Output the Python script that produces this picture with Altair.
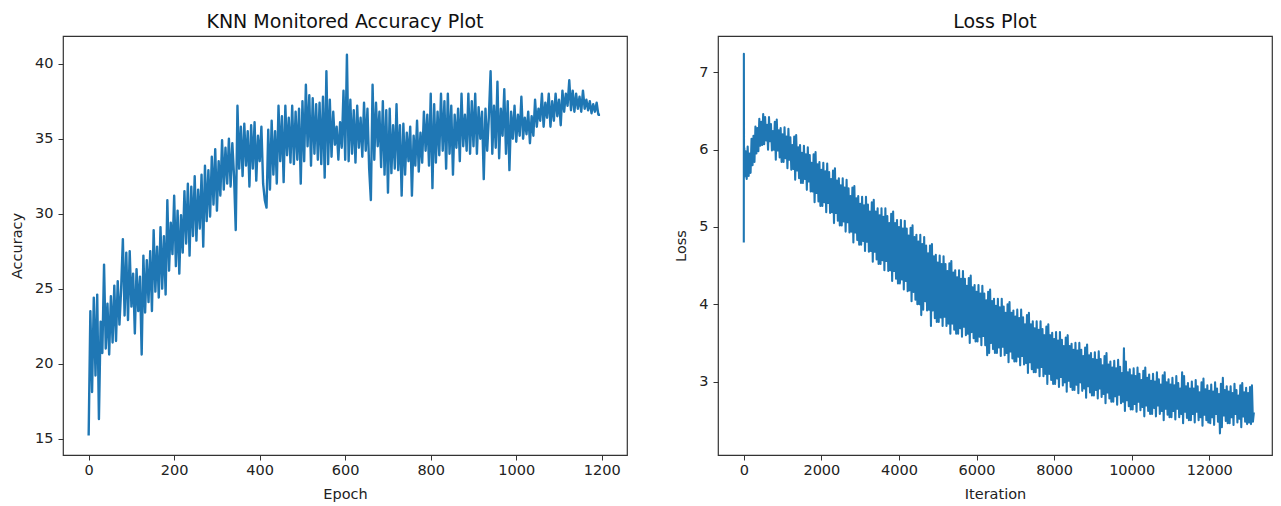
import altair as alt
import pandas as pd

# ---------------- data ----------------
acc_step = 4  # one value every 4 epochs
accuracy = [
    15.2, 23.5, 18.1, 24.4, 19.2, 24.6, 16.3, 22.8, 20.7, 26.6,
    21.0, 24.0, 20.6, 24.5, 21.4, 25.2, 21.5, 25.5, 22.6, 25.0,
    28.3, 23.2, 27.4, 22.9, 27.5, 23.8, 26.0, 22.0, 26.3, 23.5,
    25.8, 20.6, 27.2, 23.4, 26.9, 24.1, 27.5, 23.5, 28.9, 24.8,
    27.8, 24.4, 29.1, 25.0, 28.5, 24.6, 30.9, 26.2, 29.4, 27.3,
    31.2, 26.5, 30.2, 26.0, 29.9, 27.4, 31.5, 28.0, 32.0, 27.2,
    31.8, 28.5, 32.5, 28.2, 31.6, 29.0, 32.6, 27.8, 33.2, 29.5,
    32.9, 29.8, 33.8, 30.6, 34.3, 30.2, 33.5, 31.2, 34.9, 31.6,
    34.4, 32.0, 35.0, 31.8, 34.7, 32.5, 28.9, 37.2, 33.0, 35.8,
    32.5, 36.0, 33.2, 35.5, 31.8, 35.9, 33.0, 36.1, 32.2, 35.2,
    33.5, 35.8, 32.0, 30.9, 30.4, 35.6, 31.6, 36.2, 32.6, 35.5,
    32.0, 37.2, 33.5, 36.5, 32.1, 37.2, 33.9, 36.4, 33.4, 37.2,
    33.3, 36.8, 33.6, 37.0, 32.0, 37.5, 33.5, 38.6, 34.5, 37.9,
    33.2, 37.7, 34.0, 37.3, 33.6, 37.4, 33.3, 37.8, 32.4, 39.5,
    33.3, 37.6, 33.8, 36.8, 34.6, 35.8, 33.6, 36.1, 34.4, 38.2,
    33.6, 40.6, 33.5, 37.6, 34.0, 36.9, 33.4, 37.2, 34.4, 36.4,
    33.8, 37.4, 34.2, 37.0, 33.0, 30.9, 38.6, 33.6, 37.4, 34.5,
    36.8, 33.1, 37.5, 32.6, 36.9, 31.4, 37.0, 32.7, 35.9, 33.0,
    37.3, 32.9, 35.9, 31.2, 36.0, 32.6, 35.4, 33.5, 35.8, 31.2,
    35.2, 33.2, 36.2, 32.8, 35.4, 33.4, 36.8, 34.2, 36.6, 33.2,
    38.0, 31.7, 37.3, 33.4, 36.8, 33.9, 38.0, 34.2, 37.5, 33.0,
    38.0, 34.0, 37.2, 32.6, 36.6, 34.4, 37.0, 33.5, 38.0, 34.5,
    36.6, 34.2, 38.0, 34.0, 37.5, 34.5, 38.0, 34.0, 37.1, 35.0,
    36.8, 32.3, 37.0, 34.2, 36.5, 39.5, 34.0, 37.2, 34.4, 38.8,
    33.7, 37.0, 35.2, 38.3, 34.0, 37.5, 32.9, 36.8, 35.0, 37.2,
    34.8, 36.6, 35.2, 37.8, 35.0, 36.4, 35.3, 36.8, 34.7, 36.5,
    35.2, 37.6, 35.8, 37.0, 36.2, 38.0, 35.8, 37.4, 36.4, 38.0,
    35.8, 37.5, 36.2, 38.0, 36.5, 37.6, 35.9, 38.2, 36.8, 38.0,
    37.2, 38.9, 36.9, 38.2, 36.8, 38.0, 37.0, 37.8, 36.8, 38.2,
    37.0, 37.6, 36.9, 37.5, 36.7, 37.3, 36.8, 37.4, 36.6, 36.6,
]
epochs = [i * acc_step for i in range(len(accuracy))]

loss_head_iter = [0, 2, 6, 12, 18]
loss_head = [4.8, 7.24, 5.85, 6.02, 5.65]
loss_step = 25  # main series: one value every 25 iterations from 25
loss_main = [
    5.7, 5.98, 5.62, 6.04, 5.66, 5.95, 5.7, 6.14, 5.8, 6.18, 5.84, 6.3, 5.95, 6.28, 5.98, 6.4, 6.05, 6.36, 6.06, 6.46,
    6.07, 6.42, 6.12, 6.32, 6.0, 6.42, 6.11, 6.33, 5.99, 6.24, 6.0, 6.36, 5.87, 6.39, 5.99, 6.25, 5.9, 6.28, 5.84, 6.2,
    5.84, 6.29, 5.89, 6.17, 5.76, 6.27, 5.87, 6.16, 5.74, 6.06, 5.75, 6.17, 5.61, 6.19, 5.73, 6.03, 5.63, 6.06, 5.57, 5.96,
    5.57, 6.05, 5.62, 5.94, 5.48, 6.03, 5.59, 5.93, 5.46, 5.83, 5.46, 5.94, 5.32, 5.97, 5.44, 5.81, 5.33, 5.84, 5.27, 5.74,
    5.27, 5.83, 5.32, 5.72, 5.19, 5.82, 5.31, 5.71, 5.18, 5.62, 5.19, 5.73, 5.05, 5.76, 5.18, 5.6, 5.08, 5.63, 5.02, 5.54,
    5.02, 5.63, 5.07, 5.51, 4.94, 5.61, 5.06, 5.5, 4.93, 5.4, 4.94, 5.51, 4.8, 5.53, 4.93, 5.37, 4.83, 5.4, 4.77, 5.3,
    4.77, 5.39, 4.82, 5.28, 4.69, 5.39, 4.81, 5.29, 4.68, 5.2, 4.69, 5.32, 4.55, 5.35, 4.68, 5.2, 4.58, 5.24, 4.52, 5.15,
    4.52, 5.24, 4.57, 5.13, 4.44, 5.24, 4.56, 5.14, 4.43, 5.05, 4.44, 5.17, 4.3, 5.2, 4.43, 5.05, 4.33, 5.09, 4.27, 5.0,
    4.27, 5.09, 4.32, 4.98, 4.19, 5.08, 4.3, 4.98, 4.17, 4.89, 4.18, 4.99, 4.04, 5.02, 4.16, 4.87, 4.06, 4.9, 4.0, 4.81,
    4.0, 4.9, 3.86, 4.78, 3.93, 4.87, 4.04, 4.76, 3.92, 4.66, 3.93, 4.76, 3.72, 4.78, 3.92, 4.62, 3.82, 4.64, 3.77, 4.54,
    3.77, 4.63, 3.83, 4.52, 3.72, 4.62, 3.84, 4.52, 3.72, 4.43, 3.75, 4.53, 3.62, 4.56, 3.75, 4.41, 3.67, 4.44, 3.62, 4.35,
    3.62, 4.44, 3.69, 4.33, 3.58, 4.43, 3.71, 4.33, 3.6, 4.24, 3.62, 4.34, 3.5, 4.37, 3.64, 4.22, 3.56, 4.25, 3.52, 4.16,
    3.52, 4.25, 3.58, 4.14, 3.47, 4.24, 3.59, 4.14, 3.47, 4.05, 3.34, 4.16, 3.37, 4.19, 3.5, 4.04, 3.42, 4.07, 3.37, 3.98,
    3.37, 4.07, 3.44, 3.96, 3.33, 4.07, 3.45, 3.97, 3.34, 3.89, 3.37, 4.0, 3.25, 4.03, 3.39, 3.89, 3.3, 3.92, 3.26, 3.84,
    3.26, 3.93, 3.32, 3.82, 3.21, 3.93, 3.33, 3.83, 3.22, 3.74, 3.24, 3.86, 3.11, 3.89, 3.25, 3.74, 3.16, 3.78, 3.12, 3.69,
    3.12, 3.78, 3.18, 3.67, 3.07, 3.78, 3.19, 3.68, 3.07, 3.6, 3.1, 3.71, 2.97, 3.74, 3.1, 3.6, 3.02, 3.63, 2.97, 3.55,
    2.97, 3.64, 3.04, 3.53, 2.93, 3.64, 3.06, 3.54, 2.95, 3.46, 2.99, 3.57, 2.87, 3.6, 3.01, 3.46, 2.93, 3.49, 2.89, 3.41,
    2.89, 3.5, 2.96, 3.4, 2.85, 3.5, 2.99, 3.41, 2.88, 3.33, 2.91, 3.44, 2.79, 3.48, 2.94, 3.34, 2.86, 3.37, 2.82, 3.29,
    2.82, 3.38, 2.89, 3.28, 2.78, 3.39, 2.91, 3.29, 2.8, 3.21, 2.84, 3.33, 2.72, 3.37, 2.86, 3.22, 2.78, 3.26, 2.74, 3.18,
    2.74, 3.27, 2.81, 3.17, 2.7, 3.28, 2.83, 3.19, 2.72, 3.11, 2.74, 3.43, 2.62, 3.26, 2.76, 3.12, 2.68, 3.16, 2.64, 3.08,
    2.64, 3.17, 2.71, 3.07, 2.61, 3.18, 2.74, 3.1, 2.63, 3.02, 2.67, 3.14, 2.55, 3.18, 2.69, 3.05, 2.62, 3.09, 2.58, 3.01,
    2.58, 3.1, 2.66, 3.0, 2.55, 3.12, 2.69, 3.03, 2.58, 2.96, 2.62, 3.08, 2.5, 3.12, 2.65, 2.99, 2.57, 3.03, 2.54, 2.96,
    2.54, 3.05, 2.62, 2.95, 2.51, 3.07, 2.65, 2.98, 2.54, 2.91, 2.58, 3.12, 2.46, 3.07, 2.61, 2.94, 2.53, 2.98, 2.5, 2.91,
    2.5, 3.0, 2.58, 2.91, 2.47, 3.02, 2.61, 2.94, 2.5, 2.86, 2.54, 2.99, 2.43, 3.04, 2.57, 2.9, 2.5, 2.95, 2.47, 2.88,
    2.46, 2.96, 2.54, 2.87, 2.44, 2.99, 2.58, 2.91, 2.48, 2.84, 2.33, 2.97, 2.41, 3.05, 2.56, 2.89, 2.49, 2.94, 2.46, 2.87,
    2.46, 2.94, 2.54, 2.85, 2.44, 2.97, 2.58, 2.89, 2.47, 2.82, 2.52, 2.95, 2.41, 2.98, 2.55, 2.86, 2.48, 2.92, 2.45, 2.85,
    2.47, 2.93, 2.45, 2.95, 2.48, 2.6,
]
loss_iter = loss_head_iter + [loss_step * (i + 1) for i in range(len(loss_main))]
loss = loss_head + loss_main

acc_xticks = [0, 200, 400, 600, 800, 1000, 1200]
acc_yticks = [15, 20, 25, 30, 35, 40]
loss_xticks = [0, 2000, 4000, 6000, 8000, 10000, 12000]
loss_yticks = [3, 4, 5, 6, 7]

# ---------------- chart ----------------
FONT = "DejaVu Sans"
LINE = "#1f77b4"

acc_df = pd.DataFrame({"Epoch": epochs, "Accuracy": accuracy})
loss_df = pd.DataFrame({"Iteration": loss_iter, "Loss": loss})


def xaxis(title, values):
    return alt.Axis(title=title, values=values, labelFlush=False, labelOverlap=False,
                    labelPadding=3, titlePadding=11, format="d")


def yaxis(title, values, ext, tpad):
    return alt.Axis(title=title, values=values, labelFlush=False, labelOverlap=False,
                    minExtent=ext, maxExtent=ext, titlePadding=tpad, labelPadding=5,
                    format="d")


left = alt.Chart(acc_df).mark_line(
    color=LINE, strokeWidth=2.4, strokeJoin="round", clip=True
).encode(
    x=alt.X("Epoch:Q", scale=alt.Scale(domain=[-60, 1259], nice=False, zero=False),
            axis=xaxis("Epoch", acc_xticks)),
    y=alt.Y("Accuracy:Q", scale=alt.Scale(domain=[13.9, 41.85], nice=False, zero=False),
            axis=yaxis("Accuracy", acc_yticks, 29, 10)),
).properties(width=564, height=419, title="KNN Monitored Accuracy Plot")

right = alt.Chart(loss_df).mark_line(
    color=LINE, strokeWidth=2.1, strokeJoin="round", clip=True
).encode(
    x=alt.X("Iteration:Q", scale=alt.Scale(domain=[-665, 13617], nice=False, zero=False),
            axis=xaxis("Iteration", loss_xticks)),
    y=alt.Y("Loss:Q", scale=alt.Scale(domain=[2.05, 7.47], nice=False, zero=False),
            axis=yaxis("Loss", loss_yticks, 20, 10)),
).properties(width=554, height=419, title="Loss Plot")

chart = alt.hconcat(left, right, spacing=44).properties(
    padding={"left": 0, "top": 4, "right": 0, "bottom": 0}
).configure_view(
    stroke="#333333", strokeWidth=1.2
).configure_axis(
    grid=False, domain=False, ticks=True, tickSize=5, tickColor="#333333", tickWidth=1,
    labelFont=FONT, labelFontSize=14.5, labelColor="#222222",
    titleFont=FONT, titleFontSize=14.5, titleFontWeight="normal", titleColor="#222222",
).configure_title(
    font=FONT, fontSize=19, fontWeight="normal", color="#111111", anchor="middle", offset=4
)

chart.save("out.html", embed_options={"renderer": "svg", "actions": False})
